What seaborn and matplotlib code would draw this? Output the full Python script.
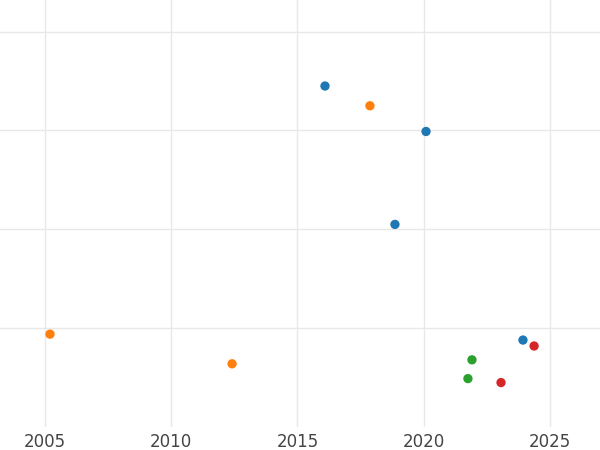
import matplotlib
matplotlib.use("Agg")
import matplotlib.pyplot as plt
import seaborn as sns
import pandas as pd

years = [2016.09, 2017.87, 2020.09, 2018.86, 2005.2, 2012.41, 2023.93, 2024.37, 2021.91, 2021.75, 2023.06]
values = [3.45, 3.25, 2.99, 2.05, 0.94, 0.64, 0.88, 0.82, 0.68, 0.49, 0.45]
groups = ["a", "b", "a", "a", "b", "b", "a", "d", "c", "c", "d"]
palette = {"a": "#1f77b4", "b": "#ff7f0e", "c": "#2ca02c", "d": "#d62728"}

df = pd.DataFrame({"year": years, "value": values, "group": groups})
sns.set_style("whitegrid")
fig = plt.figure(figsize=(6, 4.5), dpi=100)
ax = fig.add_axes([0, 0.051, 1, 0.949])
sns.scatterplot(data=df, x="year", y="value", hue="group", palette=palette,
                s=45, edgecolor="none", legend=False, ax=ax)
ax.set_xlim(2003.22, 2026.98)
ax.set_ylim(0, 4.32)
ax.set_xticks([2005, 2010, 2015, 2020, 2025])
ax.set_yticks([1, 2, 3, 4])
ax.set_yticklabels([])
ax.tick_params(axis="y", length=0)
ax.tick_params(axis="x", length=0, labelsize=12, colors="#444444", pad=4)
ax.grid(color="#e8e8e8", linewidth=1)
ax.set_xlabel("")
ax.set_ylabel("")
for s in ax.spines.values():
    s.set_visible(False)
fig.savefig("out.png")
